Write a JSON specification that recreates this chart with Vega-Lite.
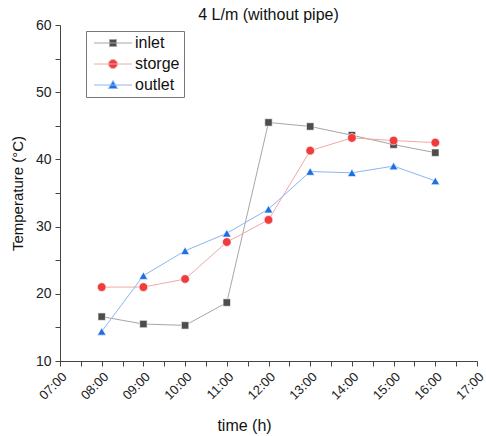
{
  "$schema": "https://vega.github.io/schema/vega-lite/v6.json",
  "width": 417,
  "height": 336,
  "autosize": {"type": "none"},
  "padding": {"left": 60, "top": 25, "right": 9, "bottom": 75},
  "background": "white",
  "title": {"text": "4 L/m (without pipe)", "fontSize": 16, "font": "Liberation Sans", "fontWeight": "normal", "anchor": "middle", "offset": -5, "color": "#111"},
  "config": {"view": {"stroke": null}, "font": "Liberation Sans"},
  "data": {"values": [
    {"h": 8, "series": "inlet", "T": 16.6},
    {"h": 9, "series": "inlet", "T": 15.5},
    {"h": 10, "series": "inlet", "T": 15.3},
    {"h": 11, "series": "inlet", "T": 18.7},
    {"h": 12, "series": "inlet", "T": 45.5},
    {"h": 13, "series": "inlet", "T": 44.9},
    {"h": 14, "series": "inlet", "T": 43.6},
    {"h": 15, "series": "inlet", "T": 42.2},
    {"h": 16, "series": "inlet", "T": 41.0},
    {"h": 8, "series": "storge", "T": 21.0},
    {"h": 9, "series": "storge", "T": 21.0},
    {"h": 10, "series": "storge", "T": 22.2},
    {"h": 11, "series": "storge", "T": 27.7},
    {"h": 12, "series": "storge", "T": 31.0},
    {"h": 13, "series": "storge", "T": 41.3},
    {"h": 14, "series": "storge", "T": 43.2},
    {"h": 15, "series": "storge", "T": 42.8},
    {"h": 16, "series": "storge", "T": 42.5},
    {"h": 8, "series": "outlet", "T": 14.4},
    {"h": 9, "series": "outlet", "T": 22.7},
    {"h": 10, "series": "outlet", "T": 26.4},
    {"h": 11, "series": "outlet", "T": 29.0},
    {"h": 12, "series": "outlet", "T": 32.6},
    {"h": 13, "series": "outlet", "T": 38.2},
    {"h": 14, "series": "outlet", "T": 38.0},
    {"h": 15, "series": "outlet", "T": 39.0},
    {"h": 16, "series": "outlet", "T": 36.8}
  ]},
  "encoding": {
    "x": {"field": "h", "type": "quantitative",
      "scale": {"domain": [7, 17], "nice": false, "zero": false},
      "axis": {"values": [7,7.5,8,8.5,9,9.5,10,10.5,11,11.5,12,12.5,13,13.5,14,14.5,15,15.5,16,16.5,17],
        "labelExpr": "datum.value % 1 === 0 ? ((datum.value < 10 ? '0' : '') + datum.value + ':00') : ''",
        "labelAngle": -45, "labelFontSize": 13, "labelColor": "#222", "labelOverlap": false, "labelPadding": 4,
        "grid": false, "domainColor": "#444", "tickColor": "#444", "tickSize": 5,
        "title": "time (h)", "titleFontSize": 16, "titleFontWeight": "normal", "titleColor": "#111", "titleX": 184, "titlePadding": 15,
        "encode": {"ticks": {"update": {"y2": {"signal": "datum.value % 1 === 0 ? 5 : 3"}}}}}},
    "y": {"field": "T", "type": "quantitative",
      "scale": {"domain": [10, 60], "nice": false, "zero": false},
      "axis": {"values": [10,15,20,25,30,35,40,45,50,55,60],
        "labelExpr": "datum.value % 10 === 0 ? datum.label : ''",
        "labelFontSize": 14, "labelColor": "#222", "labelOverlap": false, "labelPadding": 4,
        "grid": false, "domainColor": "#444", "tickColor": "#444", "tickSize": 5,
        "title": "Temperature (°C)", "titleFontSize": 15, "titleFontWeight": "normal", "titleColor": "#111", "titlePadding": 10,
        "encode": {"ticks": {"update": {"x2": {"signal": "datum.value % 10 === 0 ? -5 : -3"}}}}}}
  },
  "layer": [
    {
      "mark": {"type": "line", "strokeWidth": 1},
      "encoding": {
        "stroke": {"field": "series", "type": "nominal",
          "scale": {"domain": ["inlet", "storge", "outlet"], "range": ["#a6a6a6", "#f4a6a6", "#8cb6f2"]},
          "legend": {"orient": "none", "legendX": 26, "legendY": 6, "title": null,
            "strokeColor": "#777", "padding": 4, "symbolSize": 64, "symbolOffset": 15, "labelFontSize": 16, "labelColor": "#111",
            "labelOffset": 14, "rowPadding": 5, "labelLimit": 200, "symbolStrokeWidth": 1,
            "encode": {"symbols": {"update": {
              "shape": {"signal": "datum.value === 'inlet' ? 'M-4.75,0H4.75M-0.875,-0.875H0.875V0.875H-0.875Z' : datum.value === 'storge' ? 'M-4.75,0H4.75M1.125,0L1.039,0.431L0.797,0.797L0.431,1.039L0,1.125L-0.431,1.039L-0.797,0.797L-1.039,0.431L-1.125,0L-1.039,-0.431L-0.797,-0.797L-0.431,-1.039L0,-1.125L0.431,-1.039L0.797,-0.797L1.039,-0.431Z' : 'M-4.75,0H4.75M0,-1.125L1.125,0.875H-1.125Z'"},
              "fill": {"signal": "datum.value === 'inlet' ? '#4d4d4d' : datum.value === 'storge' ? '#f03c3c' : '#1e6fe6'"},
              "strokeWidth": {"value": 1},
              "opacity": {"value": 1}
            }}}}}
      }
    },
    {
      "transform": [{"filter": "datum.series === 'inlet'"}],
      "mark": {"type": "point", "filled": true, "opacity": 1, "shape": "square", "color": "#4d4d4d", "stroke": "white", "strokeWidth": 0.6, "size": 55}
    },
    {
      "transform": [{"filter": "datum.series === 'storge'"}],
      "mark": {"type": "point", "filled": true, "opacity": 1, "shape": "circle", "color": "#f03c3c", "stroke": "white", "strokeWidth": 0.6, "size": 75}
    },
    {
      "transform": [{"filter": "datum.series === 'outlet'"}],
      "mark": {"type": "point", "filled": true, "opacity": 1, "shape": "triangle-up", "color": "#1e6fe6", "stroke": "white", "strokeWidth": 0.6, "size": 75}
    }
  ]
}
